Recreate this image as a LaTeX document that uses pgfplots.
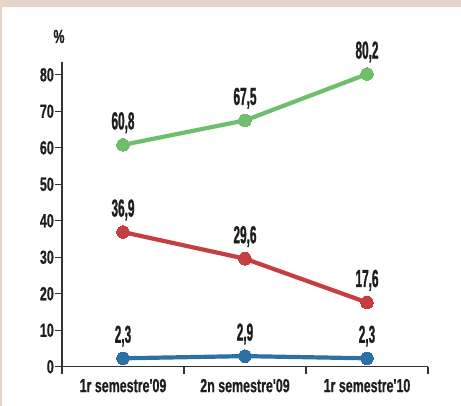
\documentclass[border=0pt]{standalone}
\usepackage{fontspec}
\usepackage{pgfplots}
\pgfplotsset{compat=1.18}
\newfontfamily\tickfont{Liberation Sans}[FakeStretch=0.655, FakeBold=0.6]
\newfontfamily\lblfont{Liberation Sans}[FakeStretch=0.48, FakeBold=1]
\definecolor{cgreen}{RGB}{110,190,110}
\definecolor{cred}{RGB}{196,62,66}
\definecolor{cblue}{RGB}{43,113,163}
\definecolor{caxis}{RGB}{51,51,51}
\definecolor{ctext}{RGB}{30,30,30}
\definecolor{cbeige}{RGB}{231,213,202}
\begin{document}
\begin{tikzpicture}[x=1pt,y=1pt]
\fill[cbeige] (0,0) rectangle (461,406);
\fill[white] (1.5,0) rectangle (461,399);
\useasboundingbox (0,0) rectangle (461,406);
\node[font=\tickfont\bfseries\fontsize{19}{21}\selectfont, text=ctext, anchor=base] at (59,363) {\%};
\begin{axis}[
  at={(62pt,39.3pt)}, anchor=south west,
  scale only axis, width=366pt, height=305pt,
  xmin=0, xmax=3, ymin=0, ymax=83.6,
  clip=false,
  axis lines*=left,
  axis line style={caxis, line width=1.4pt},
  xtick={0.5,1.5,2.5},
  xticklabels={1r semestre'09,2n semestre'09,1r semestre'10},
  minor xtick={0,1,2,3},
  major x tick style={draw=none},
  minor x tick style={caxis, line width=1.4pt},
  minor tick length=7pt,
  ytick={0,10,...,80},
  y tick style={caxis, line width=1.2pt},
  major tick length=7pt,
  tick align=outside,
  ticklabel style={font=\tickfont\bfseries\fontsize{19}{21}\selectfont, text=ctext, inner sep=1pt},
  /pgf/number format/assume math mode=true,
  xticklabel style={yshift=-4pt},
  nodes near coords,
  point meta=explicit symbolic,
  every node near coord/.append style={font=\lblfont\bfseries\fontsize{24.6}{27}\selectfont, text=ctext, anchor=base, yshift=15.5pt},
  every axis plot/.append style={line width=4.2pt, mark=*, mark size=6.3pt},
]
\addplot[color=cgreen, mark options={fill=cgreen, draw=cgreen, line width=0pt}] coordinates {(0.5,60.8)[60,8] (1.5,67.5)[67,5] (2.5,80.2)[80,2]};
\addplot[color=cred, mark options={fill=cred, draw=cred, line width=0pt}] coordinates {(0.5,36.9)[36,9] (1.5,29.6)[29,6] (2.5,17.6)[17,6]};
\addplot[color=cblue, mark options={fill=cblue, draw=cblue, line width=0pt}] coordinates {(0.5,2.3)[2,3] (1.5,2.9)[2,9] (2.5,2.3)[2,3]};
\end{axis}
\end{tikzpicture}
\end{document}
